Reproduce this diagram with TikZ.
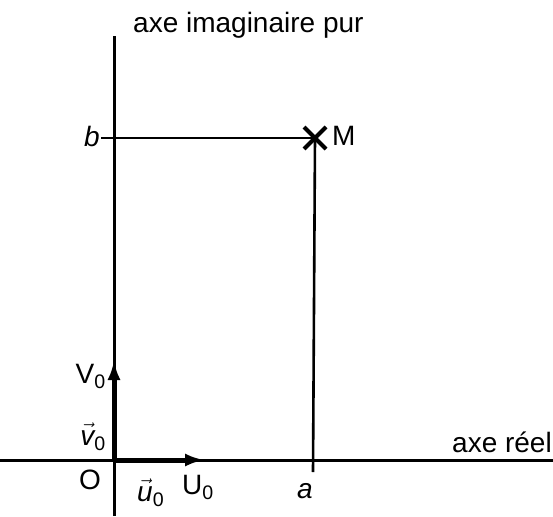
\documentclass[tikz,border=0pt]{standalone}
\usepackage{fontspec}
\setmainfont{Liberation Sans}
\usetikzlibrary{arrows.meta,positioning,shapes.misc}
\newcommand{\vecit}[1]{\ensuremath{\vec{\textit{#1}}}}
\tikzset{
 axis/.style={line width=3pt, draw=black},
 guide/.style={line width=2.6pt, draw=black},
 vecarrow/.style={-{Latex[length=20pt,width=13pt]}, line width=5pt, draw=black},
 mark cross/.style={cross out, draw=black, line width=4pt, minimum size=18pt, inner sep=0pt},
 lbl/.style={inner sep=0pt, font=\fontsize{28}{32}\selectfont}
}
\begin{document}
\begin{tikzpicture}[x=1pt,y=-1pt]
\useasboundingbox (0,0) rectangle (553,516);
% axes
\coordinate (O) at (114,460);
\coordinate (ytop) at (114,36);
\coordinate (ybot) at (114,516);
\coordinate (xleft) at (0,460);
\coordinate (xright) at (553,460);
\draw[axis] (ybot) -- (ytop);
\draw[axis] (xleft) -- (xright);
% point M and its projections
\node[mark cross] (M) at (315,138) {};
\coordinate (btick) at (101,138);
\coordinate (atick) at (313,472);
\draw[guide] (btick) -- (M.center);
\draw[guide] (atick) -- (M.center);
% unit vectors
\coordinate (U) at (205,460);
\coordinate (V) at (114,360);
\draw[vecarrow] (O) -- (U);
\draw[vecarrow] (O) -- (V);
% labels
\node[lbl, anchor=base west] (imag) at (133,33) {axe imaginaire pur};
\node[lbl, anchor=base east] (reel) at (552,452) {axe réel};
\node[lbl, anchor=base west] (Mlbl) at (332,145) {M};
\node[lbl, anchor=base east] (blbl) at (100,146) {\textit{b}};
\node[lbl, anchor=base] (albl) at (305,498) {\textit{a}};
\node[lbl, anchor=base east] (Olbl) at (101,489) {O};
\node[lbl, anchor=base east] (Vlbl) at (106,383) {V\textsubscript{0}};
\node[lbl, anchor=base east] (vlbl) at (106,445) {\vecit{v}\textsubscript{0}};
\node[lbl, anchor=base west] (Ulbl) at (182,494) {U\textsubscript{0}};
\node[lbl, anchor=base west] (ulbl) at (137,501) {\vecit{u}\textsubscript{0}};
\end{tikzpicture}
\end{document}
